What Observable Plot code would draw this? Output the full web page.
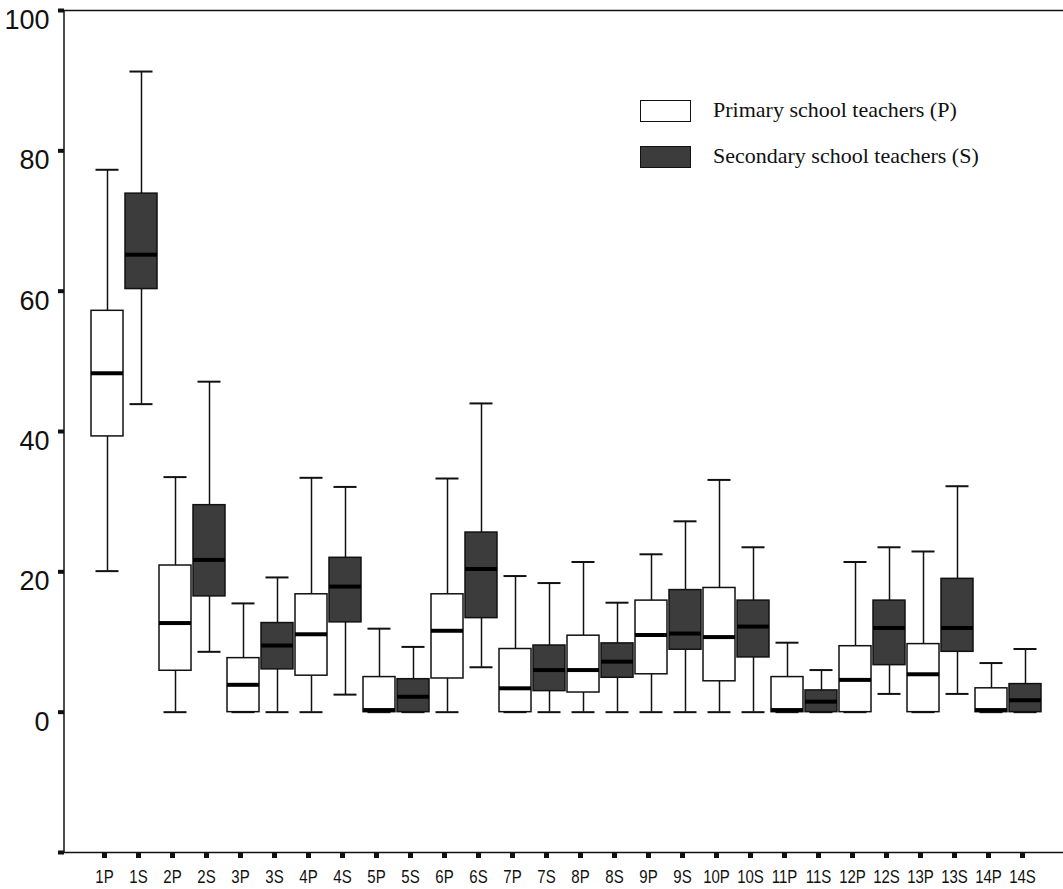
<!DOCTYPE html>
<html>
<head>
<meta charset="utf-8">
<script src="https://cdn.jsdelivr.net/npm/d3@7"></script>
<script src="https://cdn.jsdelivr.net/npm/@observablehq/plot@0.6"></script>
<style>
  html, body { margin: 0; padding: 0; background: #fff; }
  #wrap { position: relative; width: 1063px; height: 889px; }
  .legend { position: absolute; left: 640px; top: 100px; font-family: "Liberation Serif", "Times New Roman", serif; font-size: 22px; color: #111; }
  .legend .item { position: relative; height: 46px; }
  .legend .sw { position: absolute; left: 0; top: 0; width: 49px; height: 20px; border: 1.5px solid #111; }
  .legend .lab { position: absolute; left: 73px; top: -2px; white-space: nowrap; line-height: 24px; }
</style>
</head>
<body>
<div id="wrap">
  <div id="chart"></div>
  <div class="legend">
    <div class="item"><div class="sw" style="background:#fff"></div><div class="lab">Primary school teachers (P)</div></div>
    <div class="item"><div class="sw" style="background:#3c3c3c"></div><div class="lab">Secondary school teachers (S)</div></div>
  </div>
</div>
<script>
const categories = ["1P","1S","2P","2S","3P","3S","4P","4S","5P","5S","6P","6S","7P","7S",
                    "8P","8S","9P","9S","10P","10S","11P","11S","12P","12S","13P","13S","14P","14S"];
const whiskerLow  = [20.1, 43.9, 0, 8.6, 0, 0, 0, 2.5, 0, 0, 0, 6.4, 0, 0,
                     0, 0, 0, 0, 0, 0, 0, 0, 0, 2.6, 0, 2.6, 0, 0];
const quartile1   = [39.3, 60.3, 5.9, 16.5, 0, 6.1, 5.2, 12.8, 0, 0, 4.8, 13.4, 0, 3.0,
                     2.8, 4.9, 5.4, 8.9, 4.4, 7.8, 0, 0, 0, 6.7, 0, 8.6, 0, 0];
const medians     = [48.3, 65.2, 12.7, 21.7, 3.9, 9.5, 11.1, 17.9, 0.3, 2.2, 11.6, 20.4, 3.4, 6.0,
                     6.0, 7.2, 11.0, 11.2, 10.7, 12.2, 0.3, 1.5, 4.6, 12.0, 5.4, 12.0, 0.3, 1.7];
const quartile3   = [57.2, 73.9, 20.9, 29.5, 7.7, 12.7, 16.8, 22.0, 5.0, 4.7, 16.8, 25.6, 9.0, 9.5,
                     10.9, 9.8, 15.9, 17.4, 17.7, 15.9, 5.0, 3.1, 9.4, 15.9, 9.7, 19.0, 3.4, 4.0];
const whiskerHigh = [77.3, 91.3, 33.5, 47.1, 15.5, 19.2, 33.4, 32.1, 11.9, 9.3, 33.3, 44.0, 19.4, 18.4,
                     21.4, 15.6, 22.5, 27.2, 33.1, 23.5, 9.9, 6.0, 21.4, 23.5, 22.9, 32.2, 7.0, 9.0];
const yTicks = [-20, 0, 20, 40, 60, 80, 100];
const groupColors = {P: "#ffffff", S: "#3c3c3c"};

const rows = categories.map((c, i) => ({
  cat: c,
  group: c.slice(-1),
  lo: whiskerLow[i], q1: quartile1[i], med: medians[i], q3: quartile3[i], hi: whiskerHigh[i]
}));

const chart = Plot.plot({
  width: 1063,
  height: 889,
  marginLeft: 64,
  marginRight: 0,
  marginTop: 10,
  marginBottom: 37,
  style: {background: "#fff", color: "#111"},
  x: {type: "band", domain: categories, range: [89.7, 1042.7], paddingInner: 0.062, paddingOuter: 0, axis: null, label: null},
  y: {domain: [-20, 100], axis: null, label: null},
  marks: [
    Plot.ruleY([100], {stroke: "#111", strokeWidth: 1.5}),
    Plot.ruleY([-20], {stroke: "#111", strokeWidth: 1.5}),
    Plot.axisY({ticks: yTicks, tickSize: 6, tickFormat: () => "", strokeWidth: 4, stroke: "#111", label: null}),
    Plot.axisX({tickSize: 6, strokeWidth: 5, tickPadding: 11, fontSize: 15, dx: -3, label: null,
                fontFamily: "Liberation Sans, Arial, sans-serif", stroke: "#111", fill: "#111"}),
    Plot.text(yTicks.filter(d => d !== -20), {y: d => d, text: d => String(d), frameAnchor: "left",
              textAnchor: "end", dx: -15, dy: 10, fontSize: 27, fontFamily: "Liberation Sans, Arial, sans-serif", fill: "#111"}),
    // whiskers
    Plot.ruleX(rows, {x: "cat", y1: "lo", y2: "q1", stroke: "#111", strokeWidth: 1.5}),
    Plot.ruleX(rows, {x: "cat", y1: "q3", y2: "hi", stroke: "#111", strokeWidth: 1.5}),
    Plot.tickY(rows, {x: "cat", y: "hi", stroke: "#111", strokeWidth: 2, insetLeft: 4.5, insetRight: 4.5}),
    Plot.tickY(rows, {x: "cat", y: "lo", stroke: "#111", strokeWidth: 2, insetLeft: 4.5, insetRight: 4.5}),
    // boxes
    Plot.barY(rows, {x: "cat", y1: "q1", y2: "q3", fill: d => groupColors[d.group], stroke: "#111", strokeWidth: 1.5}),
    // medians
    Plot.tickY(rows, {x: "cat", y: "med", stroke: "#000", strokeWidth: 4})
  ]
});
document.getElementById("chart").appendChild(chart);

const svg = d3.select(chart);
// left axis line along the frame's left edge
svg.append("line").attr("x1", 64).attr("x2", 64).attr("y1", 10).attr("y2", 852)
   .attr("stroke", "#111").attr("stroke-width", 1.5);
// taller, condensed-looking category labels as in the reference
svg.selectAll('g[aria-label="x-axis tick label"] text').each(function() {
  const t = this.getAttribute("transform") || "";
  this.setAttribute("transform", t + " scale(1,1.25)");
});
</script>
</body>
</html>
